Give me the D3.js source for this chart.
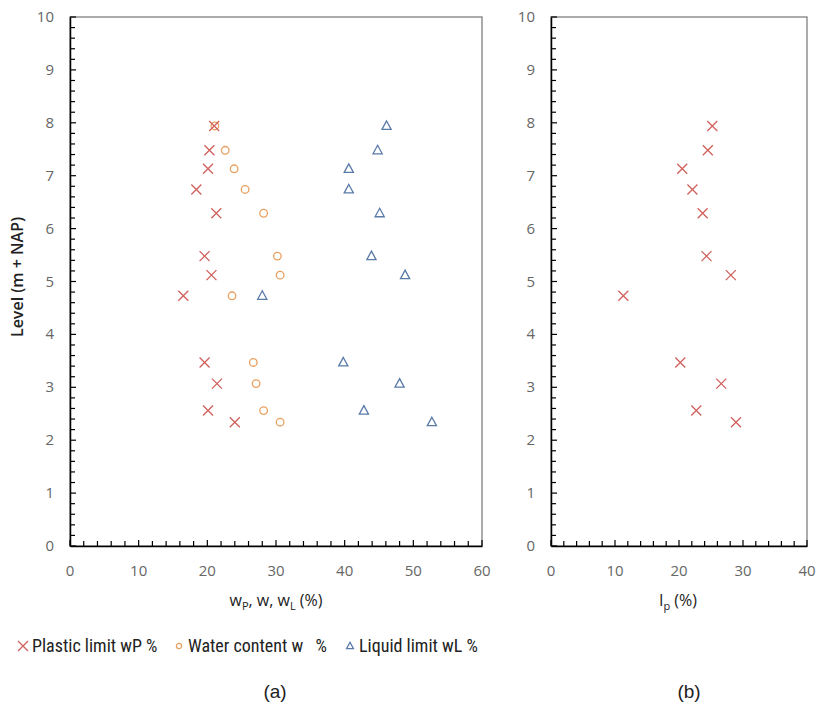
<!DOCTYPE html>
<html>
<head>
<meta charset="utf-8">
<script src="https://cdn.jsdelivr.net/npm/d3@7"></script>
<style>
  body { margin: 0; background: #fff; }
  text { font-family: "Open Sans", "Noto Sans", sans-serif; }
  .tick-label { fill: #666; font-size: 15px; }
  .axis-title { fill: #222; font-size: 16px; }
</style>
</head>
<body>
<div id="chart"></div>
<script>
// sample levels (m + NAP), shared by all series
var levels = [7.94, 7.48, 7.13, 6.74, 6.29, 5.48, 5.12, 4.73, 3.47, 3.07, 2.56, 2.34];
var plasticLimit = [21.0, 20.3, 20.1, 18.4, 21.3, 19.6, 20.6, 16.5, 19.6, 21.4, 20.1, 24.0];
var waterContent = [21.1, 22.6, 23.9, 25.5, 28.2, 30.2, 30.6, 23.6, 26.7, 27.1, 28.2, 30.6];
var liquidLimit = [46.1, 44.8, 40.6, 40.6, 45.1, 43.9, 48.8, 28.0, 39.8, 48.0, 42.8, 52.7];
var plasticityIndex = [25.2, 24.5, 20.5, 22.1, 23.7, 24.3, 28.1, 11.3, 20.2, 26.6, 22.7, 28.9];

var yTicks = [0, 1, 2, 3, 4, 5, 6, 7, 8, 9, 10];
var xTicksA = [0, 10, 20, 30, 40, 50, 60];
var xTicksB = [0, 10, 20, 30, 40];

var colRed = '#d0605c', colOrange = '#e8a060', colBlue = '#5a7aa8';

var svg = d3.select('#chart').append('svg')
    .attr('width', 817).attr('height', 708);

function makePanel(x0, x1, xMax, xTicks) {
    var top = 17, bottom = 546;
    var xScale = d3.scaleLinear().domain([0, xMax]).range([x0, x1]);
    var yScale = d3.scaleLinear().domain([0, 10]).range([bottom, top]);
    var g = svg.append('g');

    // frame
    g.append('rect')
        .attr('x', x0).attr('y', top)
        .attr('width', x1 - x0).attr('height', bottom - top)
        .attr('fill', 'none').attr('stroke', '#808080').attr('stroke-width', 1.3);

    // left / bottom axes with inward ticks
    var yAxis = d3.axisRight(yScale).tickValues([]).tickSize(0);
    g.append('g').attr('transform', 'translate(' + x0 + ',0)').call(yAxis)
        .call(function(a) { a.select('.domain').attr('stroke', '#000').attr('stroke-width', 1.5); });
    g.selectAll('.ytk').data(d3.range(0, 10.01, 0.2)).enter().append('line')
        .attr('x1', x0).attr('x2', function(d) { return x0 + (Math.abs(d - Math.round(d)) < 1e-6 ? 6 : 5); })
        .attr('y1', function(d) { return yScale(d); }).attr('y2', function(d) { return yScale(d); })
        .attr('stroke', '#000').attr('stroke-width', 1.2);

    var xAxis = d3.axisTop(xScale).tickValues([]).tickSize(0);
    g.append('g').attr('transform', 'translate(0,' + bottom + ')').call(xAxis)
        .call(function(a) { a.select('.domain').attr('stroke', '#000').attr('stroke-width', 1.5); });
    g.selectAll('.xtk').data(d3.range(0, xMax + 0.01, 2)).enter().append('line')
        .attr('y1', bottom).attr('y2', function(d) { return bottom - (d % 10 === 0 ? 6 : 5); })
        .attr('x1', function(d) { return xScale(d); }).attr('x2', function(d) { return xScale(d); })
        .attr('stroke', '#000').attr('stroke-width', 1.2);

    g.selectAll('.ylab').data(yTicks).enter().append('text')
        .attr('class', 'tick-label')
        .attr('x', x0 - 16).attr('y', function(d) { return yScale(d) + 5; })
        .attr('text-anchor', 'end').text(function(d) { return d; });
    g.selectAll('.xlab').data(xTicks).enter().append('text')
        .attr('class', 'tick-label')
        .attr('x', function(d) { return xScale(d); }).attr('y', 576)
        .attr('text-anchor', 'middle').text(function(d) { return d; });

    return { g: g, x: xScale, y: yScale };
}

function drawCross(g, xs, ys, xScale, yScale, color, s) {
    s = s || 5;
    g.selectAll(null).data(xs).enter().append('path')
        .attr('d', 'M-' + s + ',-' + s + 'L' + s + ',' + s + 'M-' + s + ',' + s + 'L' + s + ',-' + s)
        .attr('transform', function(d, i) { return 'translate(' + xScale(d) + ',' + yScale(ys[i]) + ')'; })
        .attr('stroke', color).attr('stroke-width', 1.3).attr('fill', 'none');
}
function drawCircle(g, xs, ys, xScale, yScale, color, r) {
    g.selectAll(null).data(xs).enter().append('circle')
        .attr('cx', function(d) { return xScale(d); })
        .attr('cy', function(d, i) { return yScale(ys[i]); })
        .attr('r', r || 3.8).attr('stroke', color).attr('stroke-width', 1.3).attr('fill', 'none');
}
function drawTriangle(g, xs, ys, xScale, yScale, color, k) {
    k = k || 1;
    g.selectAll(null).data(xs).enter().append('path')
        .attr('d', 'M0,' + (-5 * k) + 'L' + (4.6 * k) + ',' + (3.5 * k) + 'L' + (-4.6 * k) + ',' + (3.5 * k) + 'Z')
        .attr('transform', function(d, i) { return 'translate(' + xScale(d) + ',' + yScale(ys[i]) + ')'; })
        .attr('stroke', color).attr('stroke-width', 1.3).attr('fill', 'none');
}

var pa = makePanel(70, 482, 60, xTicksA);
drawCircle(pa.g, waterContent, levels, pa.x, pa.y, colOrange);
drawTriangle(pa.g, liquidLimit, levels, pa.x, pa.y, colBlue);
drawCross(pa.g, plasticLimit, levels, pa.x, pa.y, colRed);

var pb = makePanel(551, 807, 40, xTicksB);
drawCross(pb.g, plasticityIndex, levels, pb.x, pb.y, colRed);

// axis titles
svg.append('text').attr('class', 'axis-title')
    .attr('transform', 'translate(23,277) rotate(-90)')
    .attr('text-anchor', 'middle').style('font-weight', '600')
    .text('Level (m + NAP)');

var tA = svg.append('text').attr('class', 'axis-title')
    .attr('x', 276).attr('y', 606).attr('text-anchor', 'middle');
tA.append('tspan').text('w');
tA.append('tspan').attr('dy', 4).style('font-size', '11px').text('P');
tA.append('tspan').attr('dy', -4).text(', w, w');
tA.append('tspan').attr('dy', 4).style('font-size', '11px').text('L');
tA.append('tspan').attr('dy', -4).text(' (%)');

var tB = svg.append('text').attr('class', 'axis-title')
    .attr('x', 678).attr('y', 606).attr('text-anchor', 'middle');
tB.append('tspan').text('I');
tB.append('tspan').attr('dy', 4).style('font-size', '11px').text('p');
tB.append('tspan').attr('dy', -4).text(' (%)');

// legend
var legendLabels = ['Plastic limit wP %', 'Water content w   %', 'Liquid limit wL %'];
var legendX = [23, 179, 350];
var legend = svg.append('g').attr('transform', 'translate(0,646)');
var unit = function() { return 0; };
[drawCross, drawCircle, drawTriangle].forEach(function(fn, i) {
    var sx = d3.scaleLinear().domain([0, 1]).range([legendX[i], legendX[i] + 1]);
    var size = [5, 2.6, 0.75][i];
    fn(legend, [0], [0], sx, unit, [colRed, colOrange, colBlue][i], size);
    legend.append('text').attr('x', legendX[i] + 9).attr('y', 6)
        .style('font-size', '18px').style('fill', '#222')
        .style('font-family', '"Roboto Condensed", "Liberation Sans Narrow", "Roboto", sans-serif')
        .attr('xml:space', 'preserve')
        .text(legendLabels[i]);
});

// panel labels
svg.append('text').attr('x', 275).attr('y', 698).attr('text-anchor', 'middle')
    .style('font-size', '19px').style('fill', '#222')
    .style('font-family', '"Liberation Sans", Arial, sans-serif').text('(a)');
svg.append('text').attr('x', 689).attr('y', 698).attr('text-anchor', 'middle')
    .style('font-size', '19px').style('fill', '#222')
    .style('font-family', '"Liberation Sans", Arial, sans-serif').text('(b)');
</script>
</body>
</html>
